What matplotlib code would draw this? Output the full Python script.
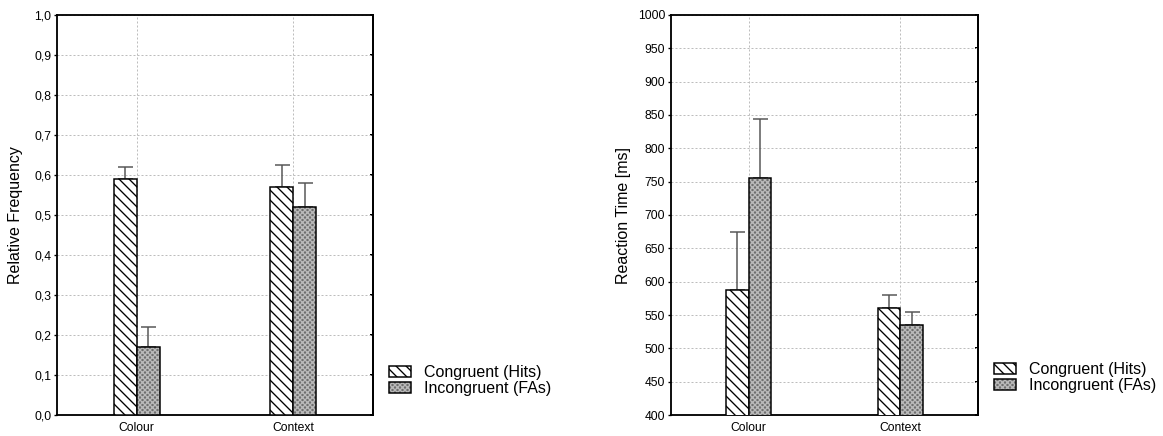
import matplotlib
matplotlib.use("Agg")
import matplotlib.pyplot as plt
import numpy as np
from matplotlib.ticker import FuncFormatter, MultipleLocator
from matplotlib.patches import Patch, Rectangle
from matplotlib.legend_handler import HandlerBase

categories = ["Colour", "Context"]
series_names = ["Congruent (Hits)", "Incongruent (FAs)"]

freq_hits = [0.59, 0.57]
freq_hits_err = [0.03, 0.055]
freq_fas = [0.17, 0.52]
freq_fas_err = [0.05, 0.06]

rt_hits = [587, 561]
rt_hits_err = [88, 19]
rt_fas = [756, 535]
rt_fas_err = [88, 19]

plt.rcParams['font.family'] = ['Liberation Sans', 'DejaVu Sans']
plt.rcParams['hatch.linewidth'] = 0.8

BS = chr(92)
HATCH_HITS = BS * 4
HATCH_FA = 'x' * 8

DPI = 120
fig = plt.figure(figsize=(1163 / DPI, 436 / DPI), dpi=DPI)

W, H = 1163, 436


def ax_rect(x0, y0, x1, y1):
    return [x0 / W, (H - y1) / H, (x1 - x0) / W, (y1 - y0) / H]


ax1 = fig.add_axes(ax_rect(57, 15, 373, 415))
ax2 = fig.add_axes(ax_rect(671, 15, 978, 415))

width = 0.147
GRAY_FACE = '#6e6e6e'
GRAY_HATCH = '#bababa'
ERR_COLOR = '#555555'


def draw(ax, hits, hits_err, fas, fas_err, ylim, step, ylabel, fmt, label_x):
    x = np.arange(len(categories))
    ax.bar(x - width / 2, hits, width, bottom=0, color='white', edgecolor='black',
           linewidth=0.9, hatch=HATCH_HITS, zorder=3)
    ax.bar(x + width / 2, fas, width, color=GRAY_FACE, edgecolor=GRAY_HATCH,
           linewidth=0, hatch=HATCH_FA, zorder=3)
    ax.bar(x + width / 2, fas, width, fill=False, edgecolor='black', linewidth=0.9, zorder=4)
    ax.errorbar(x - width / 2, hits, yerr=[np.zeros(len(hits)), hits_err], fmt='none',
                ecolor=ERR_COLOR, elinewidth=0.9, capsize=4.5, capthick=0.9, zorder=2)
    ax.errorbar(x + width / 2, fas, yerr=[np.zeros(len(fas)), fas_err], fmt='none',
                ecolor=ERR_COLOR, elinewidth=0.9, capsize=4.5, capthick=0.9, zorder=2)

    ax.set_xlim(-0.51, 1.51)
    ax.set_ylim(*ylim)
    ax.yaxis.set_major_locator(MultipleLocator(step))
    ax.yaxis.set_major_formatter(FuncFormatter(fmt))
    ax.set_xticks(x)
    ax.set_xticklabels(categories)
    ax.tick_params(axis='x', length=0, pad=4, labelsize=7.3)
    ax.tick_params(axis='y', direction='out', length=2, width=0.8, pad=1.5, labelsize=7.3)
    ax.set_axisbelow(True)
    ax.grid(True, color='#bdbdbd', linestyle=(0, (2, 2)), linewidth=0.6, zorder=0)
    for s in ax.spines.values():
        s.set_linewidth(1.1)
        s.set_color('black')
    sec = ax.secondary_yaxis('right')
    sec.yaxis.set_major_locator(MultipleLocator(step))
    sec.tick_params(direction='in', length=2, width=1.2, labelright=False)
    sec.spines['right'].set_linewidth(1.1)
    ax.set_ylabel(ylabel, fontsize=9.6)
    ax.yaxis.set_label_coords(label_x, 0.5)


draw(ax1, freq_hits, freq_hits_err, freq_fas, freq_fas_err, (0, 1.0), 0.1,
     "Relative Frequency", lambda v, p: f"{v:.1f}".replace('.', ','), -0.108)
draw(ax2, rt_hits, rt_hits_err, rt_fas, rt_fas_err, (400, 1000), 50,
     "Reaction Time [ms]", lambda v, p: f"{v:.0f}", -0.131)


class TextureHandler(HandlerBase):
    def create_artists(self, legend, orig_handle, xdescent, ydescent, width, height, fontsize, trans):
        r1 = Rectangle((-xdescent, -ydescent), width, height, facecolor=GRAY_FACE,
                       edgecolor=GRAY_HATCH, linewidth=0, hatch=HATCH_FA, transform=trans)
        r2 = Rectangle((-xdescent, -ydescent), width, height, fill=False,
                       edgecolor='black', linewidth=0.9, transform=trans)
        return [r1, r2]


class FAHandle:
    pass


for (lx, ly) in [(389, 365), (994, 362)]:
    h1 = Patch(facecolor='white', edgecolor='black', linewidth=0.9, hatch=HATCH_HITS)
    h2 = FAHandle()
    fig.legend([h1, h2], series_names, loc='upper left',
               bbox_to_anchor=(lx / W, (H - ly) / H), frameon=False,
               fontsize=9.6, borderpad=0, borderaxespad=0, handlelength=1.4,
               handleheight=0.7, handletextpad=0.8, labelspacing=0.05,
               handler_map={FAHandle: TextureHandler()})

fig.savefig("out.png", dpi=DPI)
